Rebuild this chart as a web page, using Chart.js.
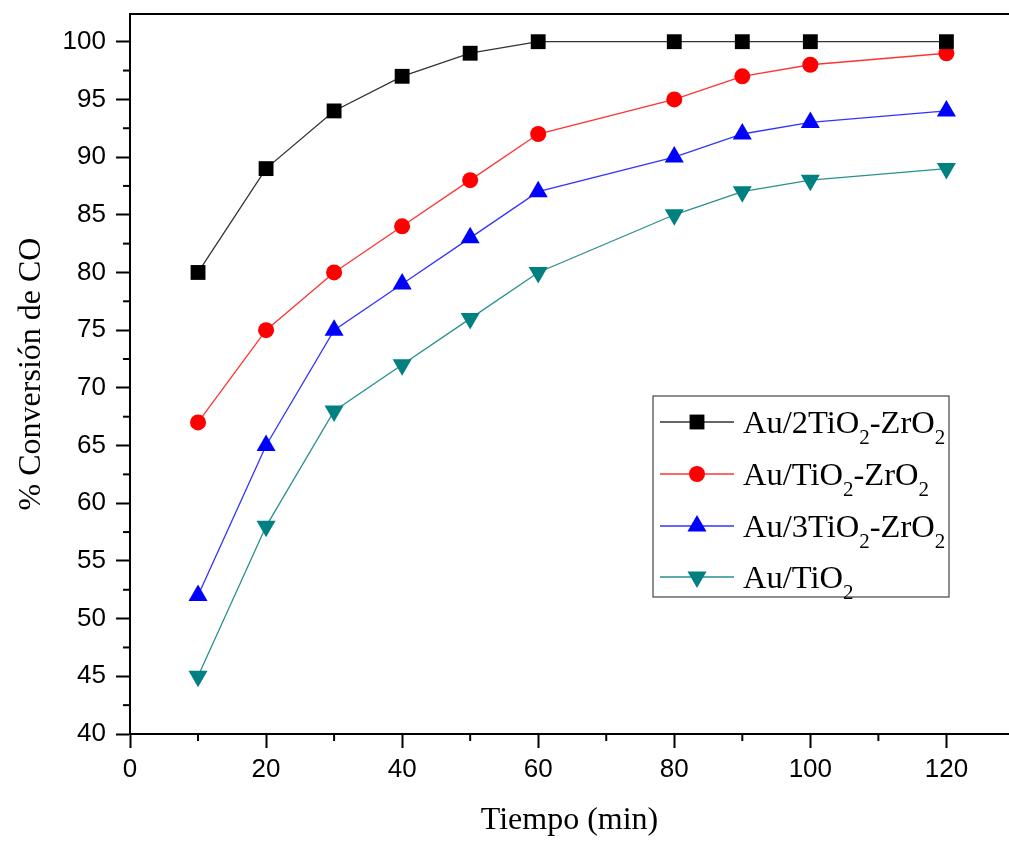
<!DOCTYPE html>
<html>
<head>
<meta charset="utf-8">
<script src="https://cdn.jsdelivr.net/npm/chart.js@4/dist/chart.umd.min.js"></script>
<style>
  html, body { margin: 0; padding: 0; background: #fff; }
  canvas { display: block; }
</style>
</head>
<body>
<canvas id="c" width="1009" height="843" style="width:1009px;height:843px"></canvas>
<script>
// ---- data ----
const tiempo = [10, 20, 30, 40, 50, 60, 80, 90, 100, 120];
const au2TiO2ZrO2 = [80, 89, 94, 97, 99, 100, 100, 100, 100, 100];
const auTiO2ZrO2  = [67, 75, 80, 84, 88, 92, 95, 97, 98, 99];
const au3TiO2ZrO2 = [52, 65, 75, 79, 83, 87, 90, 92, 93, 94];
const auTiO2      = [45, 58, 68, 72, 76, 80, 85, 87, 88, 89];
// labels: "_2" marks a subscript 2
const seriesNames = ['Au/2TiO_2-ZrO_2', 'Au/TiO_2-ZrO_2', 'Au/3TiO_2-ZrO_2', 'Au/TiO_2'];
const xTitle = 'Tiempo (min)';
const yTitle = '% Conversión de CO';

const colors = ['#000000', '#ff0000', '#0000ff', '#008080'];
const lineColors = ['#333333', '#ff3333', '#3333ff', '#2a8f8f'];
const styles = [
  { pointStyle: 'rect', radius: 10.5, rotation: 0 },
  { pointStyle: 'circle', radius: 8, rotation: 0 },
  { pointStyle: 'triangle', radius: 11, rotation: 0 },
  { pointStyle: 'triangle', radius: 11, rotation: 180 }
];
const seriesValues = [au2TiO2ZrO2, auTiO2ZrO2, au3TiO2ZrO2, auTiO2];

const datasets = seriesValues.map((vals, i) => ({
  label: seriesNames[i].replace(/_2/g, '\u2082'),
  data: tiempo.map((t, k) => ({ x: t, y: vals[k] })),
  borderColor: lineColors[i],
  backgroundColor: colors[i],
  pointBackgroundColor: colors[i],
  pointBorderColor: colors[i],
  pointBorderWidth: 0,
  borderWidth: 1.3,
  pointStyle: styles[i].pointStyle,
  pointRadius: styles[i].radius,
  pointRotation: styles[i].rotation,
  tension: 0,
  fill: false,
  clip: false
}));

function drawMarker(ctx, style, color, x, y) {
  ctx.save();
  ctx.fillStyle = color;
  ctx.strokeStyle = color;
  if (Chart.helpers && Chart.helpers.drawPoint) {
    Chart.helpers.drawPoint(ctx, { pointStyle: style.pointStyle, radius: style.radius, rotation: style.rotation, borderWidth: 0 }, x, y);
  } else {
    const r = style.radius;
    ctx.beginPath();
    if (style.pointStyle === 'rect') {
      const s = r * Math.SQRT1_2; ctx.rect(x - s, y - s, 2 * s, 2 * s);
    } else if (style.pointStyle === 'circle') {
      ctx.arc(x, y, r, 0, Math.PI * 2);
    } else {
      const d = style.rotation ? -1 : 1;
      ctx.moveTo(x, y - d * r);
      ctx.lineTo(x - 0.866 * r, y + d * r / 2);
      ctx.lineTo(x + 0.866 * r, y + d * r / 2);
      ctx.closePath();
    }
    ctx.fill();
  }
  ctx.restore();
}

const framePlugin = {
  id: 'frame',
  afterDraw(chart) {
    const ctx = chart.ctx;
    const { left, right, top, bottom } = chart.chartArea;
    ctx.save();
    // top border
    ctx.strokeStyle = '#000';
    ctx.lineWidth = 2;
    ctx.beginPath();
    ctx.moveTo(left - 1, top);
    ctx.lineTo(right, top);
    ctx.stroke();
    // minor ticks between major ticks
    const xs = chart.scales.x, ys = chart.scales.y;
    const minor = 7;
    ctx.lineWidth = 2;
    const xt = xs.ticks.map(t => t.value);
    const xstep = xt[1] - xt[0];
    for (let v = xt[0] + xstep / 2; v < xs.max; v += xstep) {
      const px = xs.getPixelForValue(v);
      ctx.beginPath(); ctx.moveTo(px, bottom); ctx.lineTo(px, bottom + minor); ctx.stroke();
    }
    const yt = ys.ticks.map(t => t.value);
    const ystep = yt[1] - yt[0];
    for (let v = yt[0] + ystep / 2; v < ys.max; v += ystep) {
      const py = ys.getPixelForValue(v);
      ctx.beginPath(); ctx.moveTo(left, py); ctx.lineTo(left - minor, py); ctx.stroke();
    }
    // legend
    const box = { x: 653, y: 396, w: 296, h: 201 };
    ctx.lineWidth = 1.2;
    ctx.strokeStyle = '#444';
    ctx.strokeRect(box.x, box.y, box.w, box.h);
    const rowY = [422, 474, 526, 577];
    seriesNames.forEach((name, i) => {
      const y = rowY[i];
      ctx.strokeStyle = lineColors[i];
      ctx.lineWidth = 1.3;
      ctx.beginPath(); ctx.moveTo(660, y); ctx.lineTo(734, y); ctx.stroke();
      drawMarker(ctx, styles[i], colors[i], 697, y);
      // text with subscripts
      let tx = 743;
      const base = y + 11;
      ctx.fillStyle = '#000';
      ctx.textBaseline = 'alphabetic';
      ctx.textAlign = 'left';
      const parts = name.split('_2');
      parts.forEach((p, k) => {
        ctx.font = '32.5px "Liberation Serif", "Times New Roman", serif';
        ctx.fillText(p, tx, base);
        tx += ctx.measureText(p).width;
        if (k < parts.length - 1) {
          ctx.font = '21px "Liberation Serif", "Times New Roman", serif';
          ctx.fillText('2', tx, base + 11);
          tx += ctx.measureText('2').width;
        }
      });
    });
    ctx.restore();
  }
};

const bgPlugin = {
  id: 'bg',
  beforeDraw(chart) {
    const ctx = chart.ctx;
    ctx.save();
    ctx.fillStyle = '#fff';
    ctx.fillRect(0, 0, chart.width, chart.height);
    ctx.restore();
  }
};

const tickFont = { family: '"Liberation Sans", Arial, sans-serif', size: 26 };
const titleFont = { family: '"Liberation Serif", "Times New Roman", serif', size: 32 };

new Chart(document.getElementById('c'), {
  type: 'line',
  data: { datasets },
  options: {
    responsive: false,
    animation: false,
    devicePixelRatio: 1,
    layout: { autoPadding: false, padding: { top: 14, right: 0, left: 0, bottom: 0 } },
    plugins: { legend: { display: false }, tooltip: { enabled: false } },
    scales: {
      x: {
        type: 'linear',
        min: 0,
        max: 129.2,
        border: { display: true, color: '#000', width: 2 },
        grid: { display: true, drawOnChartArea: false, drawTicks: true, tickLength: 14, tickWidth: 2, tickColor: '#000' },
        ticks: { stepSize: 20, includeBounds: false, font: tickFont, color: '#000', padding: 6, maxRotation: 0, autoSkip: false },
        title: { display: true, text: xTitle, font: titleFont, color: '#000', padding: { top: 4, bottom: 3 } },
        afterFit(scale) { scale.height = 109; scale.paddingLeft = 0; scale.paddingRight = 0; }
      },
      y: {
        type: 'linear',
        min: 40,
        max: 102.4,
        border: { display: true, color: '#000', width: 2 },
        grid: { display: true, drawOnChartArea: false, drawTicks: true, tickLength: 14, tickWidth: 2, tickColor: '#000' },
        ticks: { stepSize: 5, includeBounds: false, font: tickFont, color: '#000', padding: 10, autoSkip: false },
        title: { display: true, text: yTitle, font: titleFont, color: '#000', padding: { top: 12, bottom: 4 } },
        afterFit(scale) { scale.width = 130; scale.paddingTop = 0; scale.paddingBottom = 0; }
      }
    }
  },
  plugins: [bgPlugin, framePlugin]
});
</script>
</body>
</html>
